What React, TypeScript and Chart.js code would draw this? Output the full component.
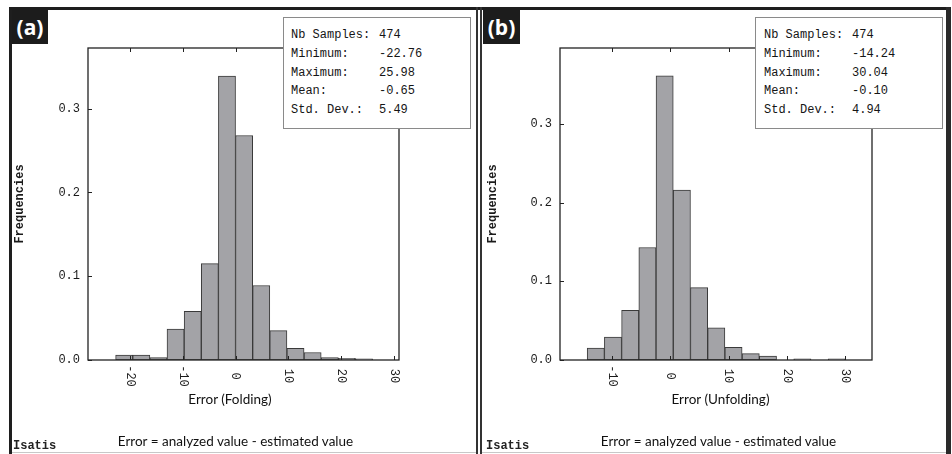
import React, { useEffect, useRef } from "react";
import { Chart, registerables } from "chart.js";

Chart.register(...registerables);

// ---- Data ----
// Panel (a): Error (Folding) — 15 bins between -22.76 and 25.98
const binCentersA = [-21.135, -17.885, -14.635, -11.385, -8.135, -4.885, -1.635, 1.615, 4.865, 8.115, 11.365, 14.615, 17.865, 21.115, 24.365];
const freqA = [0.006, 0.006, 0.003, 0.037, 0.058, 0.115, 0.339, 0.268, 0.089, 0.035, 0.014, 0.009, 0.003, 0.002, 0.0015];

// Panel (b): Error (Unfolding) — 15 bins between -14.24 and 30.04
const binCentersB = [-12.764, -9.812, -6.86, -3.908, -0.956, 1.996, 4.948, 7.9, 10.852, 13.804, 16.756, 19.708, 22.66, 25.612, 28.564];
const freqB = [0.015, 0.029, 0.063, 0.143, 0.361, 0.216, 0.092, 0.041, 0.016, 0.008, 0.005, 0, 0.0015, 0, 0.0015];

const statLabels = ["Nb Samples:", "Minimum:", "Maximum:", "Mean:", "Std. Dev.:"];
const statValuesA = ["474", "-22.76", "25.98", "-0.65", "5.49"];
const statValuesB = ["474", "-14.24", "30.04", "-0.10", "4.94"];

const xTitleA = "Error (Folding)";
const xTitleB = "Error (Unfolding)";
const footerText = "Error = analyzed value - estimated value";
const yTitle = "Frequencies";

const MONO = "'Liberation Mono', 'DejaVu Sans Mono', monospace";
const SANS = "Lato, 'Open Sans', sans-serif";

const framePlugin = {
  id: "frame",
  afterDatasetsDraw(chart: any) {
    const { ctx, chartArea, scales } = chart;
    const { left, right, top, bottom } = chartArea;
    ctx.save();
    ctx.strokeStyle = "#222";
    ctx.lineWidth = 1.3;
    ctx.strokeRect(left, top, right - left, bottom - top);
    ctx.lineWidth = 1;
    ctx.beginPath();
    scales.x.ticks.forEach((t: any) => {
      if (Math.abs(t.value % 10) > 1e-6) return;
      const px = Math.round(scales.x.getPixelForValue(t.value)) + 0.5;
      ctx.moveTo(px, bottom);
      ctx.lineTo(px, bottom - 4);
      ctx.moveTo(px, top);
      ctx.lineTo(px, top + 4);
    });
    scales.y.ticks.forEach((t: any) => {
      const py = Math.round(scales.y.getPixelForValue(t.value)) + 0.5;
      ctx.moveTo(left, py);
      ctx.lineTo(left + 4, py);
    });
    ctx.stroke();
    // rotated x tick labels (reading top to bottom)
    ctx.fillStyle = "#1a1a1a";
    ctx.font = `12px ${MONO}`;
    ctx.textAlign = "center";
    ctx.textBaseline = "middle";
    scales.x.ticks.forEach((t: any) => {
      if (Math.abs(t.value % 10) > 1e-6) return;
      const px = scales.x.getPixelForValue(t.value);
      ctx.save();
      ctx.translate(px, bottom + 16);
      ctx.rotate(Math.PI / 2);
      ctx.fillText(String(t.value), 0, 0);
      ctx.restore();
    });
    ctx.restore();
  },
};

function makeChart(
  canvas: HTMLCanvasElement,
  centers: number[],
  freqs: number[],
  cfg: { xMin: number; xMax: number; yMax: number; yWidth: number; padRight: number; titlePad: number }
) {
  return new Chart(canvas, {
    type: "bar",
    data: {
      datasets: [
        {
          data: centers.map((x, i) => ({ x, y: freqs[i] })),
          backgroundColor: "#a3a3a7",
          borderColor: "#3a3a3a",
          borderWidth: 1,
          borderSkipped: false,
          barPercentage: 1,
          categoryPercentage: 1,
          grouped: false,
        } as any,
      ],
    },
    options: {
      animation: false,
      responsive: false,
      layout: { padding: { left: 0, top: 48, right: cfg.padRight, bottom: 0 } },
      plugins: { legend: { display: false }, tooltip: { enabled: false } },
      scales: {
        x: {
          type: "linear",
          min: cfg.xMin,
          max: cfg.xMax,
          offset: false,
          grid: { display: false, drawTicks: false, offset: false },
          border: { display: false },
          ticks: { display: false, stepSize: 10, includeBounds: false },
          afterFit: (s: any) => {
            s.height = 94;
          },
        },
        y: {
          type: "linear",
          min: 0,
          max: cfg.yMax,
          grid: { display: false, drawTicks: false },
          border: { display: false },
          ticks: {
            stepSize: 0.1,
            includeBounds: false,
            padding: 8,
            color: "#1a1a1a",
            font: { family: MONO, size: 12 },
            callback: (v: any) => Number(v).toFixed(1),
          },
          title: {
            display: true,
            text: yTitle,
            color: "#1a1a1a",
            font: { family: MONO, size: 12, weight: "bold" },
            padding: { top: cfg.titlePad, bottom: 0 },
          },
          afterFit: (s: any) => {
            s.width = cfg.yWidth;
          },
        },
      } as any,
    },
    plugins: [framePlugin],
  });
}

const abs = (l: number, t: number, w: number, h: number, bg: string): React.CSSProperties => ({
  position: "absolute",
  left: l,
  top: t,
  width: w,
  height: h,
  background: bg,
});

function CenterText({ x, y, text, font, size, weight, color }: any) {
  return (
    <div
      style={{
        position: "absolute",
        left: x,
        top: y,
        transform: "translate(-50%, -50%)",
        whiteSpace: "nowrap",
        fontFamily: font,
        fontSize: size,
        fontWeight: weight || "normal",
        color: color || "#111",
        lineHeight: 1,
      }}
    >
      {text}
    </div>
  );
}

function StatsBox({ left, labelX, valueX, values }: any) {
  return (
    <>
      <div
        style={{
          position: "absolute",
          left,
          top: 17,
          width: 188,
          height: 112,
          boxSizing: "border-box",
          border: "1px solid #8a8a8a",
          background: "#fff",
        }}
      />
      {statLabels.map((lab, i) => {
        const cy = 35 + i * 18.75;
        const common: React.CSSProperties = {
          position: "absolute",
          top: cy - 8,
          lineHeight: "16px",
          fontFamily: MONO,
          fontSize: 12,
          color: "#151515",
          whiteSpace: "pre",
        };
        return (
          <React.Fragment key={lab}>
            <div style={{ ...common, left: labelX }}>{lab}</div>
            <div style={{ ...common, left: valueX }}>{values[i]}</div>
          </React.Fragment>
        );
      })}
    </>
  );
}

function Badge({ left, width, text }: any) {
  return (
    <div
      style={{
        ...abs(left, 10, width, 34, "#1c1c1c"),
        color: "#fff",
        fontFamily: "'Open Sans', sans-serif",
        fontWeight: 700,
        fontSize: 21,
        lineHeight: "34px",
        textAlign: "center",
      }}
    >
      {text}
    </div>
  );
}

export default function App() {
  const refA = useRef<HTMLCanvasElement>(null);
  const refB = useRef<HTMLCanvasElement>(null);

  useEffect(() => {
    const a = makeChart(refA.current!, binCentersA, freqA, {
      xMin: -28,
      xMax: 31,
      yMax: 0.3725,
      yWidth: 88,
      padRight: 77,
      titlePad: 13,
    });
    const b = makeChart(refB.current!, binCentersB, freqB, {
      xMin: -18.9,
      xMax: 34.6,
      yMax: 0.3965,
      yWidth: 84,
      padRight: 80,
      titlePad: 9.3,
    });
    return () => {
      a.destroy();
      b.destroy();
    };
  }, []);

  return (
    <div
      style={{
        position: "absolute",
        left: 0,
        top: 0,
        width: 952,
        height: 454,
        background: "#fff",
        overflow: "hidden",
      }}
    >
      <canvas ref={refA} width={476} height={454} style={{ position: "absolute", left: 0, top: 0 }} />
      <canvas ref={refB} width={476} height={454} style={{ position: "absolute", left: 476, top: 0 }} />

      {/* frames */}
      <div style={abs(9, 7, 942, 3, "#1e1e1e")} />
      <div style={abs(9, 7, 3, 447, "#1e1e1e")} />
      <div style={abs(476, 7, 2, 447, "#333")} />
      <div style={abs(480, 7, 2, 447, "#333")} />
      <div style={abs(946, 7, 5, 447, "#2a2a2a")} />
      <div style={abs(12, 452, 464, 1, "#c8c8c8")} />
      <div style={abs(482, 452, 464, 1, "#c8c8c8")} />

      <Badge left={12} width={36} text="(a)" />
      <Badge left={483} width={37} text="(b)" />

      <StatsBox left={283} labelX={291} valueX={379} values={statValuesA} />
      <StatsBox left={755} labelX={764} valueX={852} values={statValuesB} />

      <CenterText x={230} y={400} text={xTitleA} font={SANS} size={13.5} />
      <CenterText x={720.5} y={400} text={xTitleB} font={SANS} size={13.5} />
      <CenterText x={235.5} y={441.5} text={footerText} font={SANS} size={13.5} />
      <CenterText x={718.5} y={441.5} text={footerText} font={SANS} size={13.5} />

      <div style={{ position: "absolute", left: 13, top: 438, fontFamily: MONO, fontSize: 12, fontWeight: 700, color: "#222", lineHeight: "16px" }}>
        Isatis
      </div>
      <div style={{ position: "absolute", left: 486, top: 438, fontFamily: MONO, fontSize: 12, fontWeight: 700, color: "#222", lineHeight: "16px" }}>
        Isatis
      </div>
    </div>
  );
}
